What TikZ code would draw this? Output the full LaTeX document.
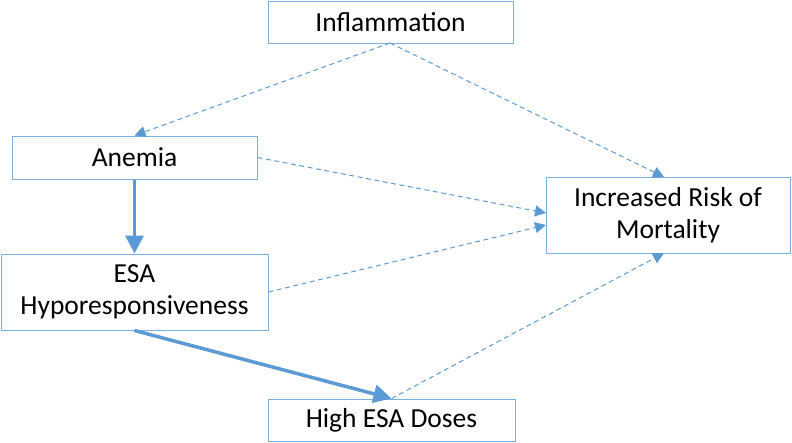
\documentclass[tikz,border=0pt]{standalone}
\usepackage{fontspec}
\setmainfont{Carlito}
\usetikzlibrary{arrows.meta}
\definecolor{ablue}{HTML}{5B9BD5}
\definecolor{bblue}{HTML}{7AAEDD}
\begin{document}
\begin{tikzpicture}[x=1pt,y=-1pt,
  box/.style={draw=bblue,line width=1pt,fill=white,inner sep=0pt,align=center,font=\fontsize{27.5}{32.5}\selectfont},
  dasharr/.style={draw=ablue,line width=1pt,dash pattern=on 5pt off 3.5pt,-{Triangle[length=11pt,width=11pt]}},
  thickarr/.style={draw=ablue,line width=3.5pt,-{Triangle[length=18pt,width=18pt]}}]
\useasboundingbox (0,0) rectangle (792,442);
\node[box,minimum width=245pt,minimum height=42pt] (inf) at (390.5,22) {Inflammation};
\node[box,minimum width=245pt,minimum height=43pt] (ane) at (134.5,157.5) {Anemia};
\node[box,minimum width=267pt,minimum height=76pt] (esa) at (134.5,292) {ESA\\Hyporesponsiveness};
\node[box,minimum width=247pt,minimum height=42pt] (hig) at (391.5,420) {High ESA Doses};
\node[box,minimum width=244pt,minimum height=76pt] (mor) at (668,215) {Increased Risk of\\Mortality};
\coordinate (infb) at (390,43);
\coordinate (morA) at (546,213);
\coordinate (morE) at (546,225);
\coordinate (morT) at (664,177);
\coordinate (morB) at (664,253);
\draw[dasharr] (infb) -- (ane.north);
\draw[dasharr] (infb) -- (morT);
\draw[dasharr] (ane.east) -- (morA);
\draw[dasharr] (esa.east) -- (morE);
\draw[dasharr] (hig.north) -- (morB);
\draw[thickarr] (ane.south) -- (esa.north);
\draw[thickarr] (esa.south) -- (hig.north);
\end{tikzpicture}
\end{document}
